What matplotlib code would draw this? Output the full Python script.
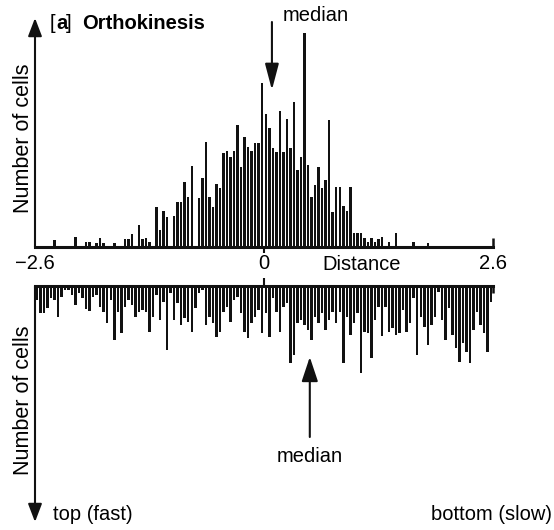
import numpy as np
import matplotlib
matplotlib.use("Agg")
import matplotlib.pyplot as plt
from matplotlib.transforms import blended_transform_factory

plt.rcParams['font.family'] = ['Liberation Sans', 'DejaVu Sans']

# Distance classes: 130 equal bins between the two extremes
x_min, x_max = -2.6, 2.6
n_bins = 130

# Upper histogram: cells per distance class (arbitrary count units)
upper_counts = [
    0, 0, 0, 0, 0, 7, 0, 0, 0, 0,
    0, 10, 0, 0, 5, 5, 0, 4, 9, 4,
    0, 0, 4, 0, 0, 8, 8, 13, 0, 22,
    8, 9, 5, 0, 40, 17, 36, 30, 0, 31,
    45, 45, 65, 50, 81, 0, 49, 69, 105, 50,
    40, 63, 59, 94, 96, 90, 96, 122, 80, 110,
    100, 96, 104, 104, 164, 133, 119, 99, 95, 136,
    95, 128, 99, 145, 77, 90, 214, 82, 50, 62,
    80, 59, 67, 127, 35, 60, 60, 41, 36, 60,
    14, 14, 14, 9, 5, 9, 5, 8, 10, 0,
    5, 0, 14, 0, 0, 0, 0, 5, 0, 0,
    0, 4, 0, 0, 0, 0, 0, 0, 0, 0,
    0, 0, 0, 0, 0, 0, 0, 0, 0, 0,
]

# Lower histogram: cells per distance class, drawn hanging downwards
lower_counts = [
    14, 27, 27, 22, 12, 14, 31, 11, 4, 4,
    9, 19, 7, 12, 23, 25, 11, 9, 21, 26,
    37, 14, 54, 26, 47, 21, 14, 19, 31, 26,
    24, 26, 46, 31, 9, 34, 16, 64, 7, 34,
    17, 39, 32, 36, 46, 22, 7, 4, 39, 31,
    37, 51, 46, 26, 21, 36, 14, 11, 27, 46,
    52, 37, 31, 24, 47, 27, 51, 12, 26, 46,
    21, 17, 77, 69, 37, 34, 39, 44, 54, 31,
    37, 27, 44, 34, 26, 37, 26, 77, 31, 49,
    37, 27, 87, 46, 47, 72, 34, 21, 50, 21,
    46, 42, 49, 47, 24, 46, 37, 12, 69, 31,
    41, 59, 39, 31, 6, 34, 54, 22, 49, 62,
    76, 57, 66, 77, 44, 26, 39, 47, 66, 16,
]

median_upper = 0.09
median_lower = 0.52

tick_values = [-2.6, 0, 2.6]
tick_labels = ['\u22122.6', '0', '2.6']

W, H = 554, 530
fig = plt.figure(figsize=(W / 100, H / 100), dpi=100)


def fx(px):
    return px / W


def fy(py):
    return 1 - py / H


edges = np.linspace(x_min, x_max, n_bins + 1)
centers = 0.5 * (edges[:-1] + edges[1:])
bar_w = 0.7 * (edges[1] - edges[0])
ink = '#111111'

ax_l, ax_r = 35, 493
ax_up = fig.add_axes([fx(ax_l), fy(247), fx(ax_r) - fx(ax_l), (247 - 18) / H])
ax_dn = fig.add_axes([fx(ax_l), fy(522), fx(ax_r) - fx(ax_l), (522 - 286) / H])

for ax in (ax_up, ax_dn):
    ax.set_xlim(x_min, x_max)
    ax.set_xticks([])
    ax.set_yticks([])
    for s in ax.spines.values():
        s.set_visible(False)
    ax.patch.set_alpha(0)

ax_up.set_ylim(0, 229)
ax_dn.set_ylim(236, 0)

ax_up.bar(centers, upper_counts, width=bar_w, color=ink, linewidth=0)
ax_dn.bar(centers, lower_counts, width=bar_w, color=ink, linewidth=0)

# Base lines of the two histograms
ax_up.spines['bottom'].set_visible(True)
ax_up.spines['bottom'].set_linewidth(2.2)
ax_up.spines['bottom'].set_color(ink)
ax_dn.spines['top'].set_visible(True)
ax_dn.spines['top'].set_linewidth(2.2)
ax_dn.spines['top'].set_color(ink)

# Small marks at zero and at the right end of each base line
tu = blended_transform_factory(ax_up.transData, ax_up.transAxes)
td = blended_transform_factory(ax_dn.transData, ax_dn.transAxes)
ax_up.plot([0, 0], [0, -6 / 229], transform=tu, color=ink, lw=1.5,
           clip_on=False, solid_capstyle='butt')
ax_up.plot([x_max, x_max], [0, 9 / 229], transform=tu, color=ink, lw=1.8,
           clip_on=False, solid_capstyle='butt')
ax_dn.plot([0, 0], [1, 1 + 8 / 236], transform=td, color=ink, lw=1.5,
           clip_on=False, solid_capstyle='butt')
ax_dn.plot([x_max, x_max], [1, 1 - 7 / 236], transform=td, color=ink, lw=1.8,
           clip_on=False, solid_capstyle='butt')

# Vertical count axes drawn as arrows
arrow_kw = dict(arrowstyle='-|>,head_length=1.1,head_width=0.42', color=ink,
                lw=1.5, shrinkA=0, shrinkB=0, mutation_scale=10)
ax_up.annotate('', xy=(0, 1), xytext=(0, 0), xycoords='axes fraction',
               textcoords='axes fraction', arrowprops=arrow_kw)
ax_dn.annotate('', xy=(0, 0), xytext=(0, 1), xycoords='axes fraction',
               textcoords='axes fraction', arrowprops=arrow_kw)

# Median arrows
med_up_kw = dict(arrowstyle='-|>,head_length=1.6,head_width=0.42', color=ink,
                 lw=1.5, shrinkA=0, shrinkB=0, mutation_scale=10)
med_dn_kw = dict(arrowstyle='-|>,head_length=1.5,head_width=0.5', color=ink,
                 lw=1.5, shrinkA=0, shrinkB=0, mutation_scale=10)
ax_up.annotate('', xy=(median_upper, 247 - 90), xytext=(median_upper, 247 - 22),
               xycoords='data', textcoords='data', arrowprops=med_up_kw,
               annotation_clip=False)
ax_dn.annotate('', xy=(median_lower, 357 - 286), xytext=(median_lower, 437 - 286),
               xycoords='data', textcoords='data', arrowprops=med_dn_kw,
               annotation_clip=False)

fs = 14.5
ax_up.text(median_upper + 0.5, fy(21), 'median',
           transform=blended_transform_factory(ax_up.transData, fig.transFigure),
           ha='center', va='baseline', fontsize=fs)
ax_dn.text(median_lower, fy(462), 'median',
           transform=blended_transform_factory(ax_dn.transData, fig.transFigure),
           ha='center', va='baseline', fontsize=fs)

# Distance axis labels between the panels
tl = blended_transform_factory(ax_up.transData, fig.transFigure)
for v, lab in zip(tick_values, tick_labels):
    ax_up.text(v, fy(269), lab, transform=tl, ha='center', va='baseline', fontsize=fs)
fig.text(fx(362), fy(270), 'Distance', ha='center', va='baseline', fontsize=fs)

# Panel title
fig.text(fx(50), fy(29), '[', ha='left', va='baseline', fontsize=fs)
fig.text(fx(56), fy(29), 'a', ha='left', va='baseline', fontsize=fs, fontweight='bold')
fig.text(fx(66), fy(29), ']', ha='left', va='baseline', fontsize=fs)
fig.text(fx(82), fy(29), 'Orthokinesis', ha='left', va='baseline', fontsize=fs,
         fontweight='bold')

# Count axis titles
fig.text(fx(24), fy(138), 'Number of cells', rotation=90, ha='center', va='center',
         fontsize=15.5)
fig.text(fx(24), fy(400), 'Number of cells', rotation=90, ha='center', va='center',
         fontsize=15.5)

# Direction labels
fig.text(fx(53), fy(520), 'top (fast)', ha='left', va='baseline', fontsize=fs)
fig.text(fx(552), fy(520), 'bottom (slow)', ha='right', va='baseline', fontsize=fs)

fig.savefig('out.png', dpi=100)
